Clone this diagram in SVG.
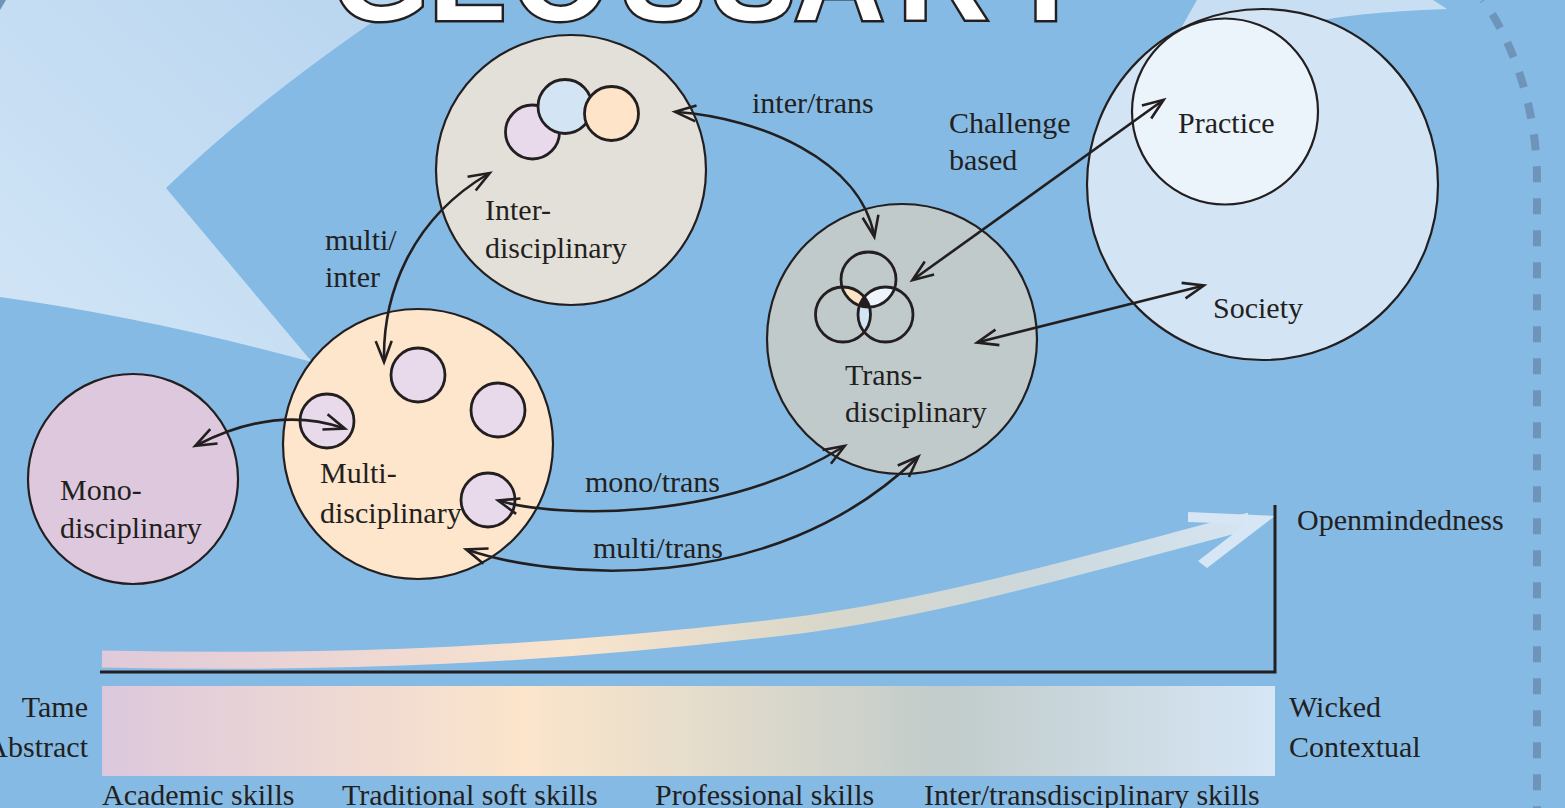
<svg xmlns="http://www.w3.org/2000/svg" width="1565" height="808" viewBox="0 0 1565 808">
<style>
.nd{stroke:#231F20;stroke-width:2.2}
.sm{stroke:#231F20;stroke-width:2.8}
.lb{font-family:"Liberation Serif",serif;font-size:30px;fill:#231F20}
.cn{fill:none;stroke:#231F20;stroke-width:2.6;marker-start:url(#arr);marker-end:url(#arr)}
.ttl{font-family:"Liberation Sans",Arial,sans-serif;font-weight:bold;font-size:125px;fill:#fff;stroke:#231F20;stroke-width:5;paint-order:stroke}
</style>
<defs>
<marker id="arr" viewBox="0 0 24 20" refX="20" refY="10" markerWidth="24" markerHeight="20" markerUnits="userSpaceOnUse" orient="auto-start-reverse" style="overflow:visible">
<path d="M1,2 L22,10 L1,18" fill="none" stroke="#231F20" stroke-width="2.6"/>
</marker>
<linearGradient id="swL" x1="0" y1="1" x2="1" y2="0">
<stop offset="0" stop-color="#D2E5F6"/><stop offset="1" stop-color="#B8D5EF"/>
</linearGradient>
<linearGradient id="bar" gradientUnits="userSpaceOnUse" x1="102" y1="0" x2="1275" y2="0">
<stop offset="0" stop-color="#DCC8DD"/><stop offset="0.36" stop-color="#FCE5CB"/><stop offset="0.5" stop-color="#E6DDCB"/><stop offset="0.72" stop-color="#C1CCCB"/><stop offset="1" stop-color="#D6E6F5"/>
</linearGradient>
<linearGradient id="band" gradientUnits="userSpaceOnUse" x1="102" y1="0" x2="1275" y2="0">
<stop offset="0" stop-color="#E0C9DA"/><stop offset="0.4" stop-color="#F9E4CD"/><stop offset="0.62" stop-color="#D8D7CA"/><stop offset="0.8" stop-color="#CCD8DC"/><stop offset="1" stop-color="#D6E6F4"/>
</linearGradient>
<clipPath id="cT"><circle cx="868.5" cy="279.5" r="27.5"/></clipPath>
<clipPath id="cR"><circle cx="885.5" cy="314.5" r="27.5"/></clipPath>
</defs>

<g id="background">
<rect x="0" y="0" width="1565" height="808" fill="#85BAE4"/>
<path d="M0,0 L405,0 Q262,95 166,188 L312,362 Q150,318 0,297 Z" fill="url(#swL)"/>
<path d="M1197,0 L1433,0 L1447,9 Q1350,12 1300,25 L1262,185 L1180,30 Z" fill="#C8DEF2"/>
<path d="M0,0 L6,0 L0,10 Z" fill="#6F94BA"/>
<path d="M1483,0 C1515,45 1536,110 1537,175 L1537,808" fill="none" stroke="#6F94BA" stroke-width="8" stroke-dasharray="16 16" stroke-dashoffset="15"/>
</g>

<g id="title">
<text class="ttl" x="332 429 512 622 712 794 898 1004" y="20">GLOSSARY</text>
</g>

<g id="mono">
<circle class="nd" cx="133" cy="479" r="105" fill="#DEC8DD"/>
<text class="lb" x="60" y="500">Mono-</text>
<text class="lb" x="60" y="538">disciplinary</text>
</g>

<g id="multi">
<circle class="nd" cx="418" cy="444" r="135" fill="#FDE6CB"/>
<circle class="sm" cx="327" cy="421" r="27" fill="#E8DAEB"/>
<circle class="sm" cx="418" cy="375" r="27" fill="#E8DAEB"/>
<circle class="sm" cx="498" cy="410" r="27" fill="#E8DAEB"/>
<circle class="sm" cx="488" cy="500" r="27" fill="#E8DAEB"/>
<text class="lb" x="320" y="483">Multi-</text>
<text class="lb" x="320" y="523">disciplinary</text>
</g>

<g id="inter">
<circle class="nd" cx="571" cy="170" r="135" fill="#E3E0D9"/>
<circle class="sm" cx="532.5" cy="132" r="27" fill="#E8DAEB"/>
<circle class="sm" cx="565" cy="106.5" r="27" fill="#D3E4F4"/>
<circle class="sm" cx="611.5" cy="113.5" r="27" fill="#FEE5C9"/>
<text class="lb" x="485" y="220">Inter-</text>
<text class="lb" x="485" y="258">disciplinary</text>
</g>

<g id="trans">
<circle class="nd" cx="902" cy="339" r="135" fill="#C1CACB"/>
<circle cx="843" cy="314.5" r="27.5" fill="#FDE3C5" clip-path="url(#cT)"/>
<circle cx="868.5" cy="279.5" r="27.5" fill="#EDF4FB" clip-path="url(#cR)"/>
<circle cx="843" cy="314.5" r="27.5" fill="#D3E4F4" clip-path="url(#cR)"/>
<g clip-path="url(#cR)"><circle cx="843" cy="314.5" r="27.5" fill="#231F20" clip-path="url(#cT)"/></g>
<circle class="sm" cx="868.5" cy="279.5" r="27.5" fill="none"/>
<circle class="sm" cx="843" cy="314.5" r="27.5" fill="none"/>
<circle class="sm" cx="885.5" cy="314.5" r="27.5" fill="none"/>
<text class="lb" x="845" y="385">Trans-</text>
<text class="lb" x="845" y="422">disciplinary</text>
</g>

<g id="society">
<circle class="nd" cx="1262.5" cy="184.5" r="175.5" fill="#D3E5F5"/>
<text class="lb" x="1213" y="318">Society</text>
</g>

<g id="practice">
<circle class="nd" cx="1225" cy="111.5" r="93" fill="#EBF3FB"/>
<text class="lb" x="1178" y="133">Practice</text>
</g>

<g id="connectors">
<path class="cn" d="M197,445 Q275,405 343,428"/>
<path class="cn" d="M384,360 C383,295 410,220 488,174"/>
<path class="cn" d="M677,112 C760,118 860,160 874,235"/>
<path class="cn" d="M914,279 L1162,101"/>
<path class="cn" d="M979,342 L1202,286"/>
<path class="cn" d="M500,501 C560,518 720,522 843,447"/>
<path class="cn" d="M468,550 C550,578 770,600 917,458"/>
</g>

<g id="connector-labels">
<text class="lb" x="325" y="250">multi/</text>
<text class="lb" x="325" y="287">inter</text>
<text class="lb" x="752" y="113">inter/trans</text>
<text class="lb" x="949" y="133">Challenge</text>
<text class="lb" x="949" y="170">based</text>
<text class="lb" x="585" y="492">mono/trans</text>
<text class="lb" x="593" y="558">multi/trans</text>
</g>

<g id="openmindedness">
<path d="M102,659 C350,664 550,655 800,625 C950,605 1100,560 1250,521" fill="none" stroke="url(#band)" stroke-width="17"/>
<polygon points="1188,512 1275,516 1207,568 1198,561 1246,524 1188,522" fill="#D6E6F4"/>
<text class="lb" x="1297" y="530">Openmindedness</text>
</g>

<g id="axis">
<rect x="102" y="686" width="1173" height="90" fill="url(#bar)"/>
<path d="M100,672 L1275,672 L1275,505" fill="none" stroke="#231F20" stroke-width="3"/>
<text class="lb" x="88" y="717" text-anchor="end">Tame</text>
<text class="lb" x="88" y="757" text-anchor="end">Abstract</text>
<text class="lb" x="1289" y="717">Wicked</text>
<text class="lb" x="1289" y="757">Contextual</text>
<text class="lb" x="102" y="805">Academic skills</text>
<text class="lb" x="342" y="805">Traditional soft skills</text>
<text class="lb" x="655" y="805">Professional skills</text>
<text class="lb" x="924" y="805">Inter/transdisciplinary skills</text>
</g>
</svg>
